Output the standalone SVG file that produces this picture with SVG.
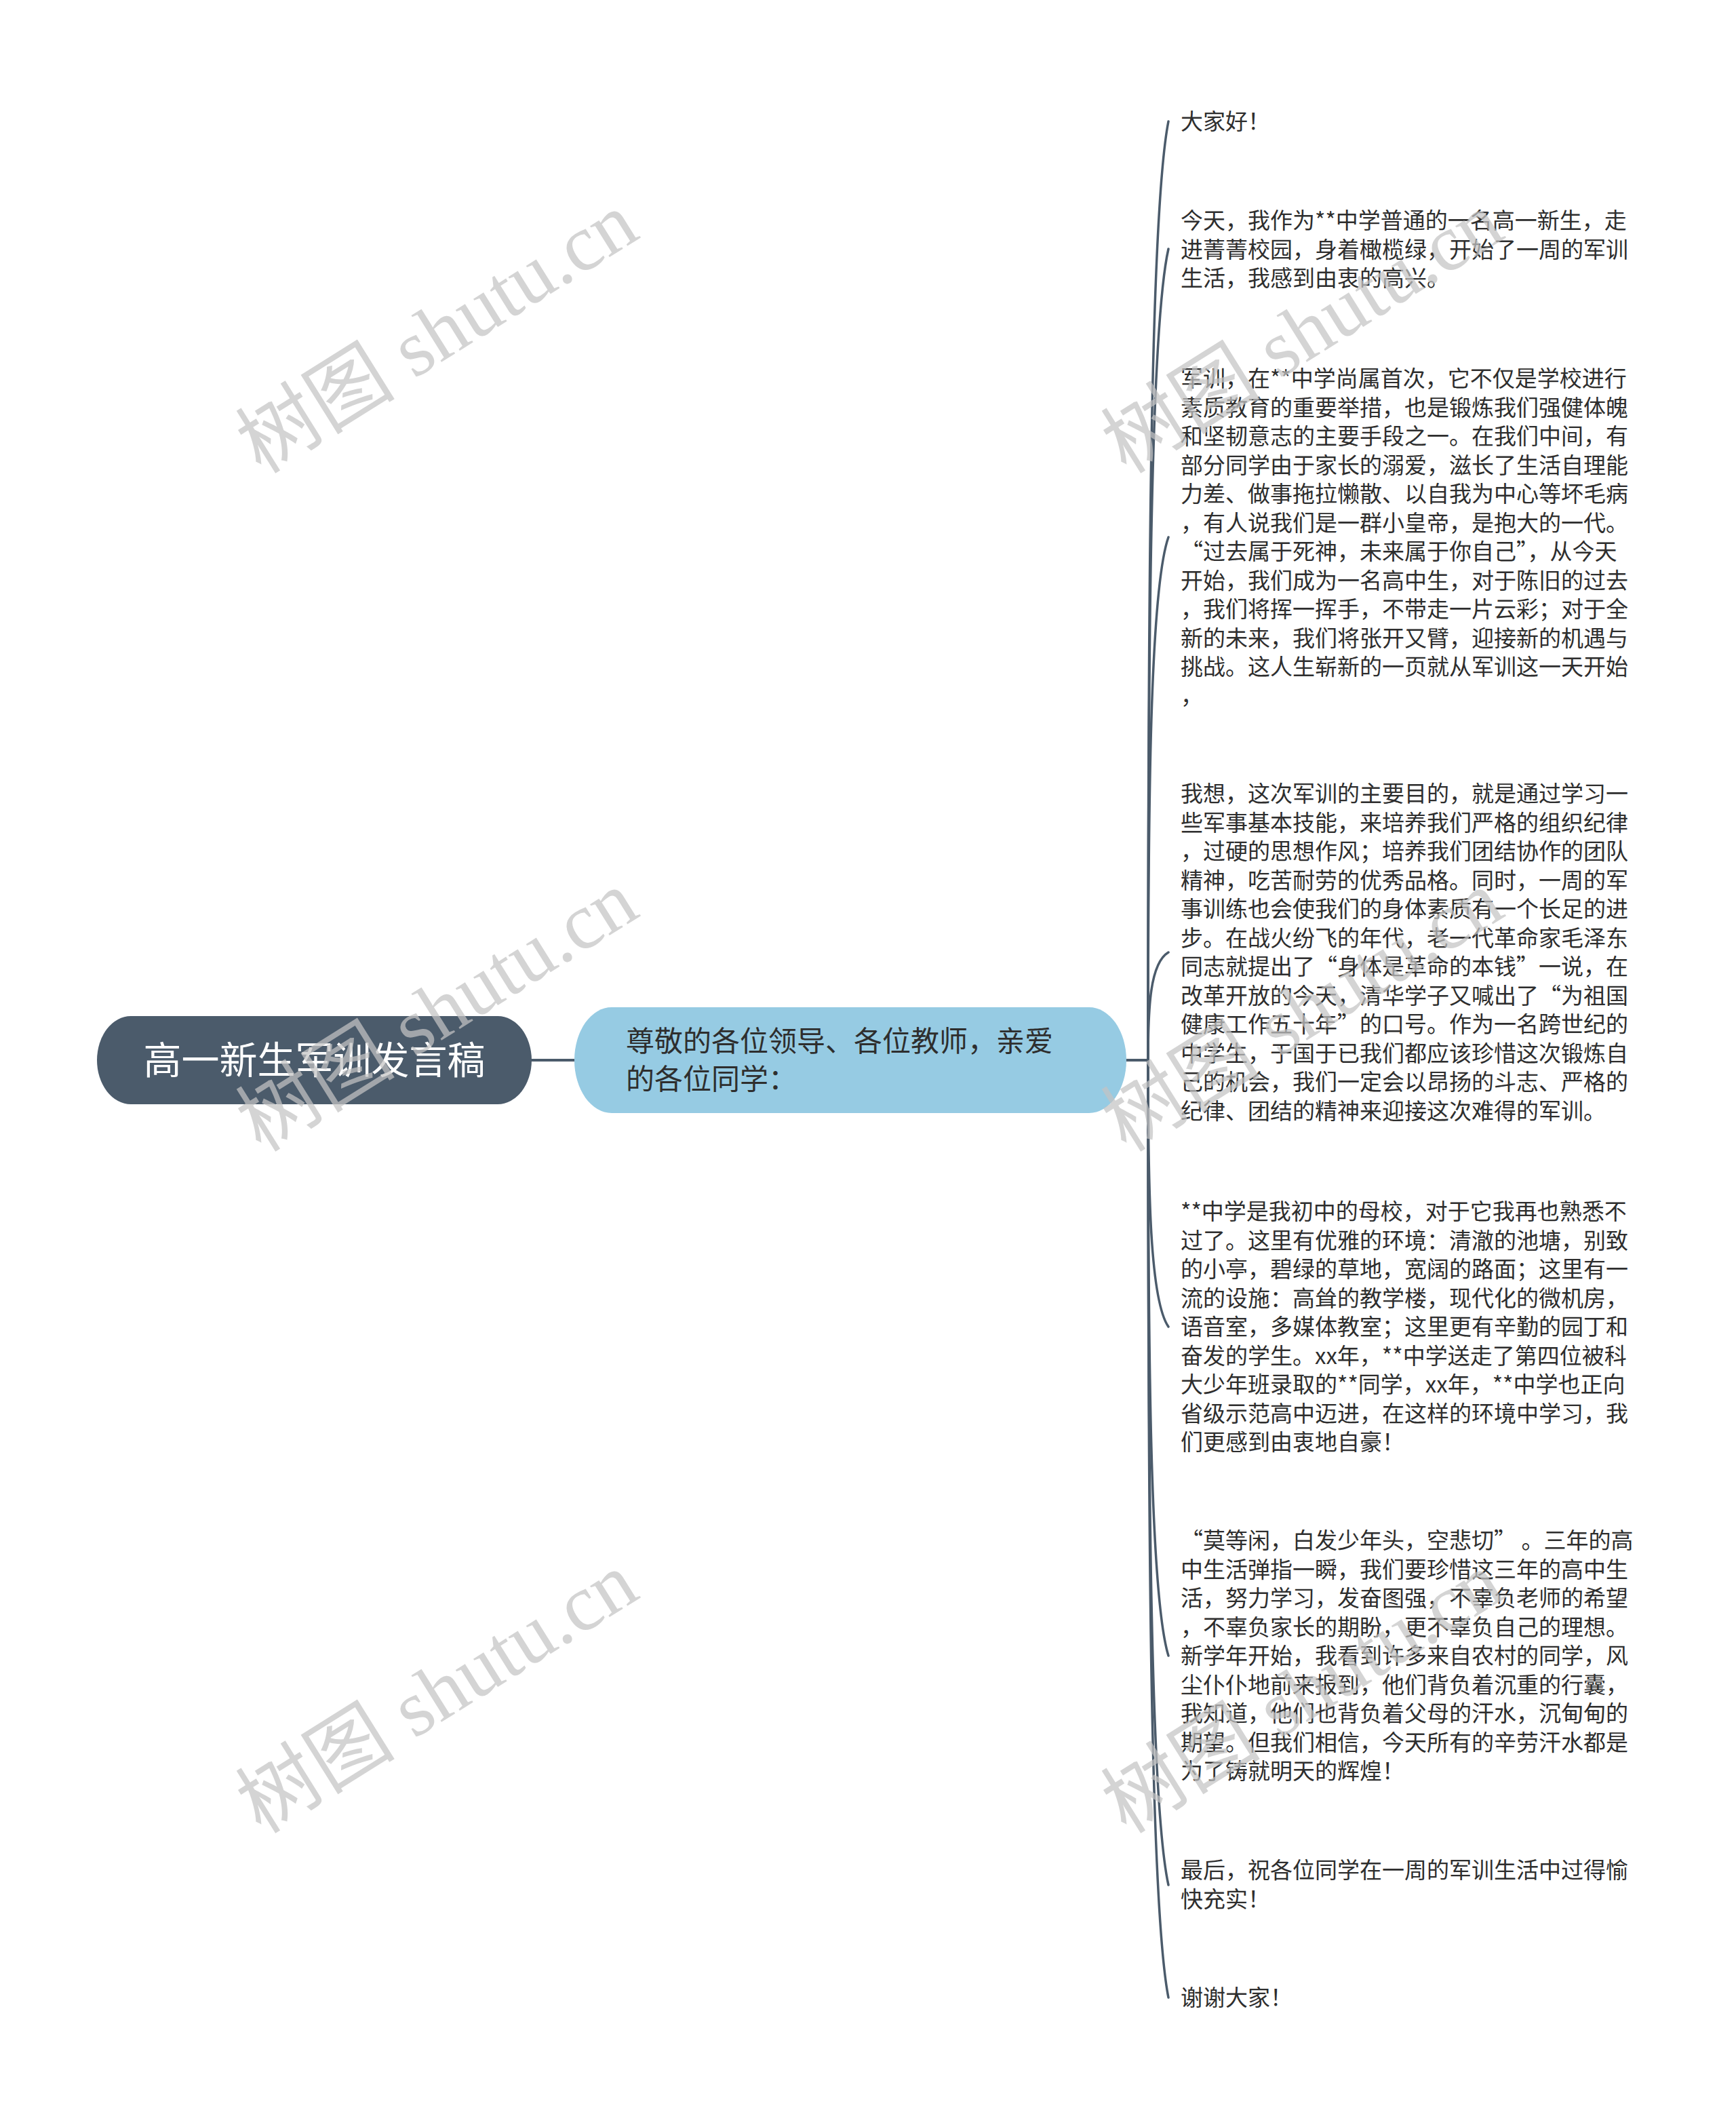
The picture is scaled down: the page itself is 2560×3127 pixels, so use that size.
<svg xmlns="http://www.w3.org/2000/svg" width="2560" height="3127" viewBox="0 0 2560 3127">
<defs>
<style>
.bg{fill:#ffffff}
.root{fill:#4b5b6b}
.sub{fill:#96cbe3}
.rt{font-family:"Noto Sans CJK SC","Noto Sans",sans-serif;font-size:56px;fill:#ffffff}
.st{font-family:"Noto Sans CJK SC","Noto Sans",sans-serif;font-size:42px;fill:#2e2e2e}
.lt{font-family:"Noto Sans CJK SC","Noto Sans",sans-serif;font-size:33px;fill:#2e2e2e}
.ln{fill:none;stroke:#4b5b6b;stroke-width:4;stroke-linecap:round}
.cv{fill:none;stroke:#4b5b6b;stroke-width:3.5;stroke-linecap:round}
.wm{font-family:"Liberation Serif","Noto Sans CJK SC",serif;font-size:118px;fill:#c4c4c4;opacity:0.72}
</style>
</defs>
<rect class="bg" x="0" y="0" width="2560" height="3127"/>

<g id="connectors">
<path class="ln" d="M784 1563 H847"/>
<path class="ln" d="M1661 1563 H1693"/>
<path class="cv" d="M1693 1563 C1693 871 1696 317 1723 179"/>
<path class="cv" d="M1693 1563 C1693 965 1696 487 1723 367"/>
<path class="cv" d="M1693 1563 C1693 1178 1696 869 1723 792"/>
<path class="cv" d="M1693 1563 C1693 1484 1696 1420 1723 1404"/>
<path class="cv" d="M1693 1563 C1693 1760 1696 1917 1723 1956"/>
<path class="cv" d="M1693 1563 C1693 2002 1696 2353 1723 2441"/>
<path class="cv" d="M1693 1563 C1693 2171 1696 2657 1723 2779"/>
<path class="cv" d="M1693 1563 C1693 2254 1696 2807 1723 2945"/>
</g>

<g id="root">
<rect class="root" x="143" y="1498" width="641" height="130" rx="50" ry="65"/>
<text class="rt" x="463.5" y="1583" text-anchor="middle">高一新生军训发言稿</text>
</g>

<g id="greeting">
<rect class="sub" x="847" y="1485" width="814" height="156" rx="55" ry="78"/>
<text class="st" x="923" y="1550">尊敬的各位领导、各位教师，亲爱<tspan x="923" y="1606">的各位同学：</tspan></text>
</g>

<g id="leaf1">
<text class="lt" x="1741" y="191">大家好！</text>
</g>

<g id="leaf2">
<text class="lt" x="1741" y="337">今天，我作为**中学普通的一名高一新生，走<tspan x="1741" dy="42.5">进菁菁校园，身着橄榄绿，开始了一周的军训</tspan><tspan x="1741" dy="42.5">生活，我感到由衷的高兴。</tspan></text>
</g>

<g id="leaf3">
<text class="lt" x="1741" y="570">军训，在**中学尚属首次，它不仅是学校进行<tspan x="1741" dy="42.5">素质教育的重要举措，也是锻炼我们强健体魄</tspan><tspan x="1741" dy="42.5">和坚韧意志的主要手段之一。在我们中间，有</tspan><tspan x="1741" dy="42.5">部分同学由于家长的溺爱，滋长了生活自理能</tspan><tspan x="1741" dy="42.5">力差、做事拖拉懒散、以自我为中心等坏毛病</tspan><tspan x="1741" dy="42.5">，有人说我们是一群小皇帝，是抱大的一代。</tspan><tspan x="1741" dy="42.5">“过去属于死神，未来属于你自己”，从今天</tspan><tspan x="1741" dy="42.5">开始，我们成为一名高中生，对于陈旧的过去</tspan><tspan x="1741" dy="42.5">，我们将挥一挥手，不带走一片云彩；对于全</tspan><tspan x="1741" dy="42.5">新的未来，我们将张开又臂，迎接新的机遇与</tspan><tspan x="1741" dy="42.5">挑战。这人生崭新的一页就从军训这一天开始</tspan><tspan x="1741" dy="42.5">，</tspan></text>
</g>

<g id="leaf4">
<text class="lt" x="1741" y="1182">我想，这次军训的主要目的，就是通过学习一<tspan x="1741" dy="42.5">些军事基本技能，来培养我们严格的组织纪律</tspan><tspan x="1741" dy="42.5">，过硬的思想作风；培养我们团结协作的团队</tspan><tspan x="1741" dy="42.5">精神，吃苦耐劳的优秀品格。同时，一周的军</tspan><tspan x="1741" dy="42.5">事训练也会使我们的身体素质有一个长足的进</tspan><tspan x="1741" dy="42.5">步。在战火纷飞的年代，老一代革命家毛泽东</tspan><tspan x="1741" dy="42.5">同志就提出了“身体是革命的本钱”一说，在</tspan><tspan x="1741" dy="42.5">改革开放的今天，清华学子又喊出了“为祖国</tspan><tspan x="1741" dy="42.5">健康工作五十年”的口号。作为一名跨世纪的</tspan><tspan x="1741" dy="42.5">中学生，于国于已我们都应该珍惜这次锻炼自</tspan><tspan x="1741" dy="42.5">己的机会，我们一定会以昂扬的斗志、严格的</tspan><tspan x="1741" dy="42.5">纪律、团结的精神来迎接这次难得的军训。</tspan></text>
</g>

<g id="leaf5">
<text class="lt" x="1741" y="1798">**中学是我初中的母校，对于它我再也熟悉不<tspan x="1741" dy="42.5">过了。这里有优雅的环境：清澈的池塘，别致</tspan><tspan x="1741" dy="42.5">的小亭，碧绿的草地，宽阔的路面；这里有一</tspan><tspan x="1741" dy="42.5">流的设施：高耸的教学楼，现代化的微机房，</tspan><tspan x="1741" dy="42.5">语音室，多媒体教室；这里更有辛勤的园丁和</tspan><tspan x="1741" dy="42.5">奋发的学生。xx年，**中学送走了第四位被科</tspan><tspan x="1741" dy="42.5">大少年班录取的**同学，xx年，**中学也正向</tspan><tspan x="1741" dy="42.5">省级示范高中迈进，在这样的环境中学习，我</tspan><tspan x="1741" dy="42.5">们更感到由衷地自豪！</tspan></text>
</g>

<g id="leaf6">
<text class="lt" x="1741" y="2283">“莫等闲，白发少年头，空悲切” 。三年的高<tspan x="1741" dy="42.5">中生活弹指一瞬，我们要珍惜这三年的高中生</tspan><tspan x="1741" dy="42.5">活，努力学习，发奋图强，不辜负老师的希望</tspan><tspan x="1741" dy="42.5">，不辜负家长的期盼，更不辜负自己的理想。</tspan><tspan x="1741" dy="42.5">新学年开始，我看到许多来自农村的同学，风</tspan><tspan x="1741" dy="42.5">尘仆仆地前来报到，他们背负着沉重的行囊，</tspan><tspan x="1741" dy="42.5">我知道，他们也背负着父母的汗水，沉甸甸的</tspan><tspan x="1741" dy="42.5">期望。但我们相信，今天所有的辛劳汗水都是</tspan><tspan x="1741" dy="42.5">为了铸就明天的辉煌！</tspan></text>
</g>

<g id="leaf7">
<text class="lt" x="1741" y="2769">最后，祝各位同学在一周的军训生活中过得愉<tspan x="1741" dy="42.5">快充实！</tspan></text>
</g>

<g id="leaf8">
<text class="lt" x="1741" y="2957">谢谢大家！</text>
</g>

<g id="watermarks">
<text class="wm" transform="translate(385 700) rotate(-32)">树图 shutu.cn</text>
<text class="wm" transform="translate(1661 700) rotate(-32)">树图 shutu.cn</text>
<text class="wm" transform="translate(385 1700) rotate(-32)">树图 shutu.cn</text>
<text class="wm" transform="translate(1661 1700) rotate(-32)">树图 shutu.cn</text>
<text class="wm" transform="translate(385 2705) rotate(-32)">树图 shutu.cn</text>
<text class="wm" transform="translate(1661 2705) rotate(-32)">树图 shutu.cn</text>
</g>
</svg>
